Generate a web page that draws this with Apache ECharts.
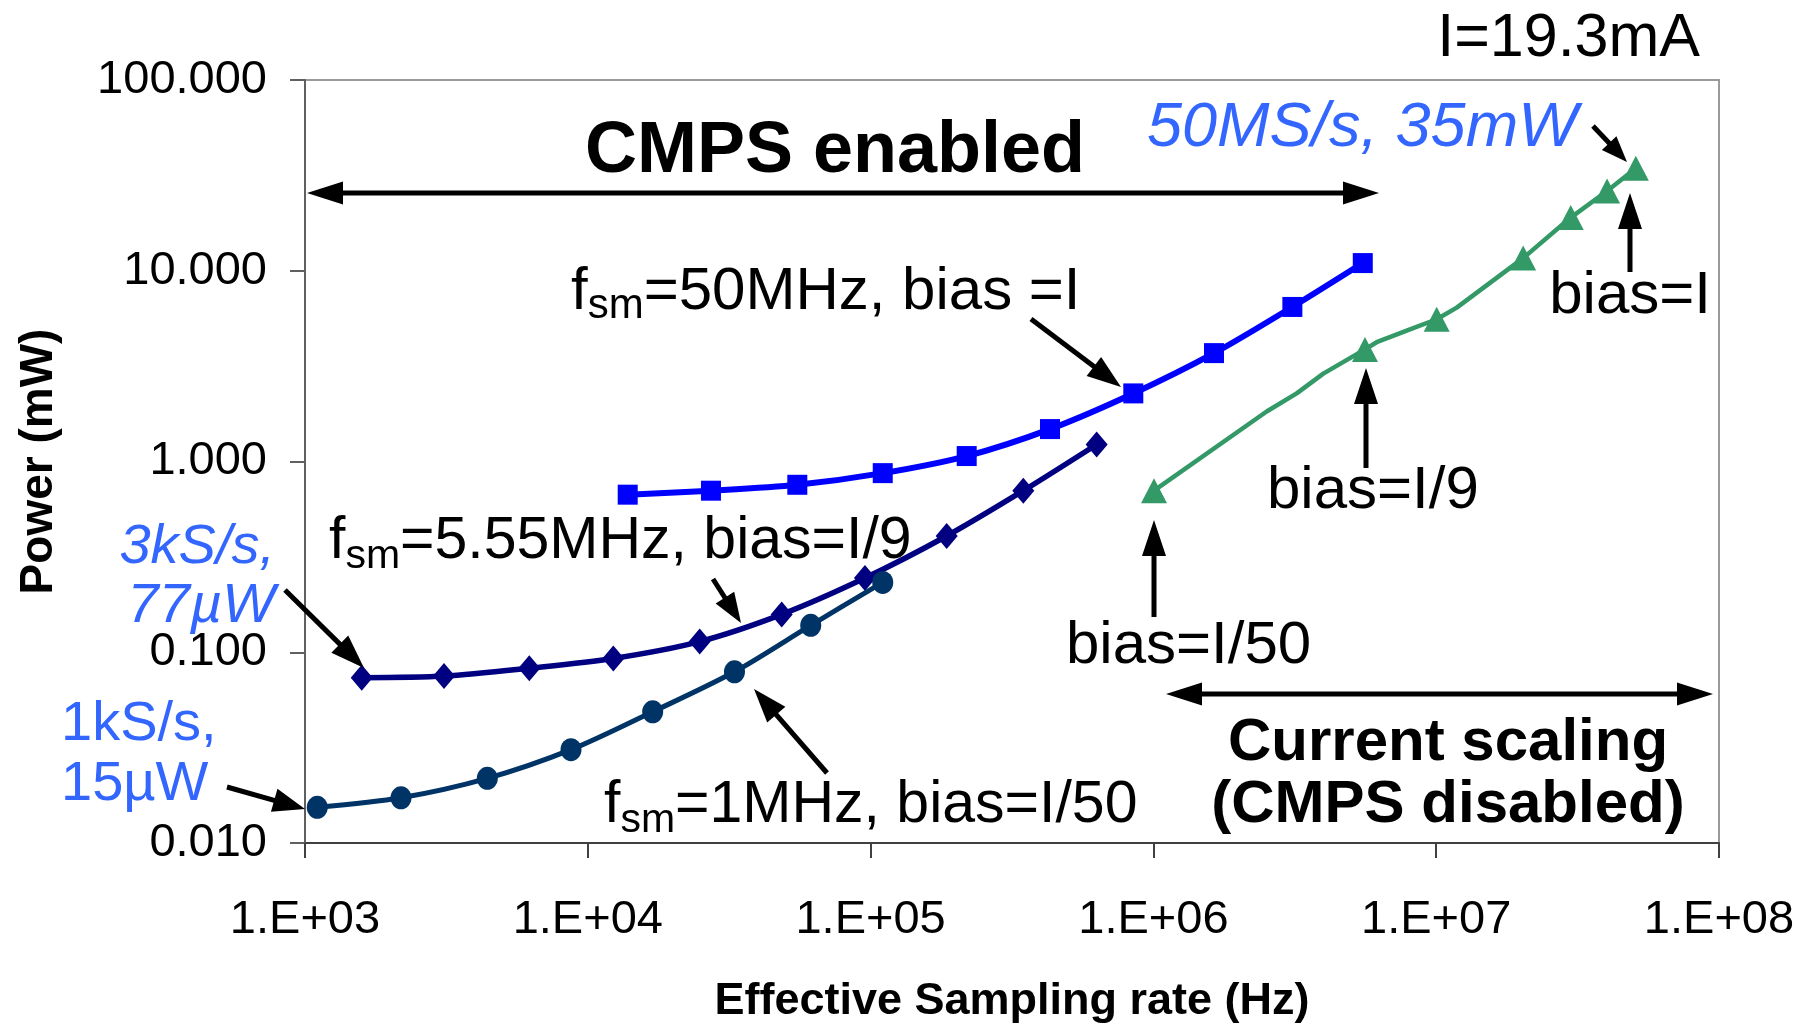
<!DOCTYPE html>
<html><head><meta charset="utf-8">
<script src="https://cdn.jsdelivr.net/npm/echarts@6/dist/echarts.min.js"></script>
<style>html,body{margin:0;padding:0;background:#fff}#c{width:1818px;height:1029px}</style>
</head><body><div id="c"></div>
<script>
// ---------- data ----------
const xTickLabels = ['1.E+03','1.E+04','1.E+05','1.E+06','1.E+07','1.E+08'];
const yTickLabels = ['0.010','0.100','1.000','10.000','100.000'];

// f_sm = 50 MHz, bias = I  (blue squares)
const cmps50F = [13840, 27260, 55060, 110400, 218700, 430900, 849000, 1638000, 3100000, 5500000];
const cmps50P = [0.670, 0.703, 0.755, 0.869, 1.068, 1.479, 2.275, 3.70, 6.46, 10.97];

// f_sm = 5.55 MHz, bias = I/9  (navy diamonds)
const cmps555F = [1587, 3101, 6210, 12310, 24870, 48480, 95500, 185800, 346700, 630000];
const cmps555P = [0.0735, 0.0750, 0.0825, 0.0928, 0.1137, 0.1579, 0.245, 0.407, 0.703, 1.228];

// f_sm = 1 MHz, bias = I/50  (dark circles)
const cmps1F = [1105, 2185, 4412, 8721, 16960, 33010, 61420, 110400];
const cmps1P = [0.01538, 0.01726, 0.02182, 0.03085, 0.04875, 0.0790, 0.1384, 0.2323];

// current scaling, CMPS disabled (green triangles); marked = shown with a triangle
const currF = [1005000, 2515000, 3211000, 3989000, 5600000, 6160000, 7865000, 10040000, 11820000, 20300000, 29900000, 40200000, 50800000];
const currP = [0.703, 1.828, 2.275, 2.888, 3.87, 4.22, 4.85, 5.57, 6.41, 11.65, 19.0, 26.2, 34.5];
const currMarked = [1, 0, 0, 0, 1, 0, 0, 1, 0, 1, 1, 1, 1];

// ---------- chart ----------
const FONT = '"Liberation Sans", Arial, Helvetica, sans-serif';
const chart = echarts.init(document.getElementById('c'), null, {renderer: 'canvas'});

function pairs(F, P) { return F.map((f, i) => [f, P[i]]); }

const option = {
  animation: false,
  backgroundColor: '#ffffff',
  grid: {left: 305, top: 80, width: 1414, height: 771, show: true, borderColor: '#9a9a9a', borderWidth: 2, backgroundColor: 'transparent'},
  xAxis: {
    type: 'log', logBase: 10, min: 1e3, max: 1e8,
    name: 'Effective Sampling rate (Hz)', nameLocation: 'middle', nameGap: 136,
    nameTextStyle: {fontFamily: FONT, fontWeight: 'bold', fontSize: 45, color: '#000'},
    axisLine: {show: true, lineStyle: {color: '#404040', width: 2}},
    axisTick: {show: true, length: 15, lineStyle: {color: '#404040', width: 2}},
    axisLabel: {margin: 54, fontFamily: FONT, fontSize: 47, color: '#000',
      formatter: v => xTickLabels[Math.round(Math.log10(v)) - 3] || ''},
    splitLine: {show: false}, minorTick: {show: false}
  },
  yAxis: {
    type: 'log', logBase: 10, min: 0.01, max: 100,
    name: 'Power (mW)', nameLocation: 'middle', nameGap: 243, nameRotate: 90,
    nameTextStyle: {fontFamily: FONT, fontWeight: 'bold', fontSize: 46, color: '#000'},
    axisLine: {show: true, lineStyle: {color: '#606060', width: 2}},
    axisTick: {show: true, length: 15, lineStyle: {color: '#606060', width: 2}},
    axisLabel: {margin: 38, fontFamily: FONT, fontSize: 47, color: '#000',
      formatter: v => yTickLabels[Math.round(Math.log10(v)) + 2] || ''},
    splitLine: {show: false}
  },
  series: [
    {type: 'line', name: 'fsm=50MHz', data: pairs(cmps50F, cmps50P), smooth: 0.3,
      symbol: 'rect', symbolSize: 20, lineStyle: {color: '#0000FF', width: 6},
      itemStyle: {color: '#0000FF', borderWidth: 0}, z: 3},
    {type: 'line', name: 'fsm=5.55MHz', data: pairs(cmps555F, cmps555P), smooth: 0.3,
      symbol: 'diamond', symbolSize: [22, 26], lineStyle: {color: '#000080', width: 5.5},
      itemStyle: {color: '#000080', borderWidth: 0}, z: 4},
    {type: 'line', name: 'fsm=1MHz', data: pairs(cmps1F, cmps1P), smooth: 0.3,
      symbol: 'circle', symbolSize: [21, 23], lineStyle: {color: '#003366', width: 5},
      itemStyle: {color: '#003366', borderWidth: 0}, z: 5},
    {type: 'line', name: 'current scaling',
      data: currF.map((f, i) => currMarked[i] ? {value: [f, currP[i]]} : {value: [f, currP[i]], symbol: 'none'}),
      smooth: false, symbol: 'triangle', symbolSize: [26, 25], showAllSymbol: true,
      lineStyle: {color: '#339966', width: 4.5}, itemStyle: {color: '#339966', borderWidth: 0}, z: 6}
  ]
};

// ---------- annotations (layout only) ----------
const mctx = document.createElement('canvas').getContext('2d');
function tw(str, font) { mctx.font = font; return mctx.measureText(str).width; }
const els = [];
const DY = 4; // general vertical correction
// text: yc = vertical centre of capitals
function txt(str, x, yc, size, o) {
  o = o || {};
  const font = (o.italic ? 'italic ' : '') + (o.bold ? 'bold ' : '') + size + 'px ' + FONT;
  els.push({type: 'text', x: x, y: yc + DY, z: 100,
    style: {text: str, font: font, fill: o.color || '#000', align: o.align || 'left', verticalAlign: 'middle'}});
}
// f_sm label: "f" + subscript "sm" + rest
function fsm(rest, x, yc, size) {
  const sub = Math.round(size * 0.7);
  const mf = size + 'px ' + FONT, sf = sub + 'px ' + FONT;
  const w1 = tw('f', mf), w2 = tw('sm', sf);
  txt('f', x, yc, size);
  const baseMain = yc + 0.358 * size;
  const baseSub = baseMain + 0.14 * size;
  txt('sm', x + w1, baseSub - 0.358 * sub, sub);
  txt(rest, x + w1 + w2, yc, size);
}
function head(tx, ty, ux, uy, hl, hw) {
  const px = -uy, py = ux;
  els.push({type: 'polygon', z: 100, shape: {points: [
    [tx, ty],
    [tx - ux * hl + px * hw / 2, ty - uy * hl + py * hw / 2],
    [tx - ux * hl - px * hw / 2, ty - uy * hl - py * hw / 2]]},
    style: {fill: '#000'}});
}
function arrow(x1, y1, x2, y2, hl, hw, lw, dbl) {
  const dx = x2 - x1, dy = y2 - y1, L = Math.hypot(dx, dy), ux = dx / L, uy = dy / L;
  const sx = dbl ? x1 + ux * hl * 0.8 : x1, sy = dbl ? y1 + uy * hl * 0.8 : y1;
  const ex = x2 - ux * hl * 0.8, ey = y2 - uy * hl * 0.8;
  els.push({type: 'line', z: 100, shape: {x1: sx, y1: sy, x2: ex, y2: ey}, style: {stroke: '#000', lineWidth: lw}});
  head(x2, y2, ux, uy, hl, hw);
  if (dbl) head(x1, y1, -ux, -uy, hl, hw);
}

const BLUE_T = '#3366FF';
txt('I=19.3mA', 1700, 35, 61, {align: 'right'});
txt('CMPS enabled', 835, 148, 72, {bold: true, align: 'center'});
arrow(307, 193, 1379, 193, 36, 23, 5, true);
txt('50MS/s, 35mW', 1147, 124, 63, {italic: true, color: BLUE_T});
arrow(1593, 126, 1627, 162, 26, 20, 5);

fsm('=50MHz, bias =I', 571, 288, 60);
arrow(1031, 319, 1121, 387, 34, 24, 5);

txt('bias=I', 1711, 292, 60, {align: 'right'});
arrow(1630, 272, 1630, 193, 36, 24, 5);
txt('bias=I/9', 1267, 487, 60);
arrow(1366, 468, 1366, 368, 36, 24, 5);
txt('bias=I/50', 1066, 642, 60);
arrow(1154, 617, 1154, 520, 36, 24, 5);

arrow(1166, 694, 1713, 694, 36, 23, 5, true);
txt('Current scaling', 1448, 739, 60, {bold: true, align: 'center'});
txt('(CMPS disabled)', 1448, 801, 60, {bold: true, align: 'center'});

fsm('=5.55MHz, bias=I/9', 329, 538, 59);
arrow(713, 579, 741, 623, 30, 22, 5);

txt('3kS/s,', 275, 543, 56, {italic: true, color: BLUE_T, align: 'right'});
txt('77\u00b5W', 275, 602, 56, {italic: true, color: BLUE_T, align: 'right'});
arrow(285, 590, 364, 668, 34, 24, 5);

txt('1kS/s,', 61, 721, 56, {color: BLUE_T});
txt('15\u00b5W', 61, 781, 56, {color: BLUE_T});
arrow(227, 787, 305, 809, 32, 24, 5);

fsm('=1MHz, bias=I/50', 604, 802, 59);
arrow(827, 773, 754, 689, 34, 24, 5);

option.graphic = {elements: els};
chart.setOption(option);
</script>
</body></html>
